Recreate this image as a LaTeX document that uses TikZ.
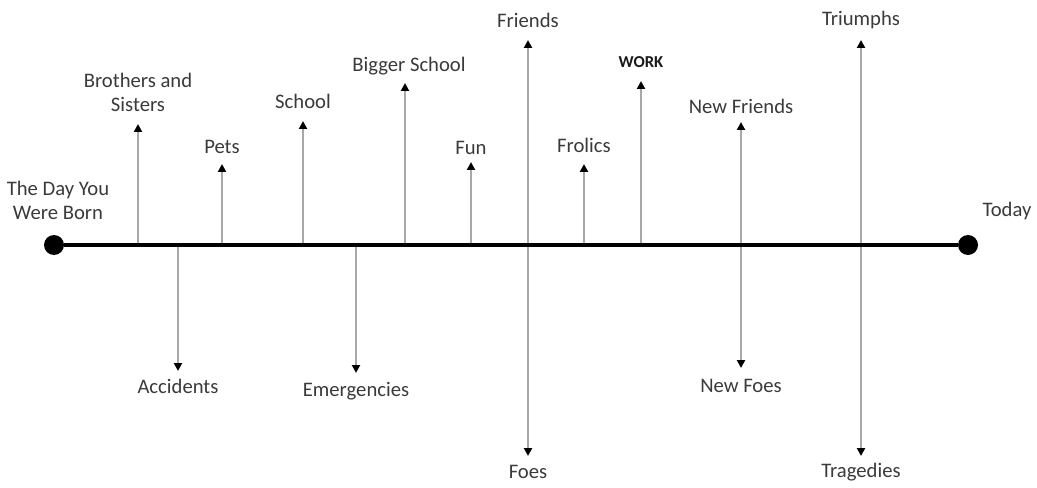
\documentclass[tikz,border=0pt]{standalone}
\usepackage{fontspec}
\setmainfont{Carlito}
\usetikzlibrary{arrows.meta}
\definecolor{txt}{HTML}{3A3A3A}
\definecolor{stem}{HTML}{A8A8A8}
\begin{document}
\begin{tikzpicture}[x=0.75pt,y=-0.75pt,
  lbl/.style={text=txt,font=\fontsize{15.5}{18}\selectfont,align=center,inner sep=0pt},
  boldlbl/.style={text=black!90,font=\fontsize{12.5}{15}\selectfont\bfseries,inner sep=0pt},
  stemarrow/.style={draw=stem,line width=1.6pt,-{Triangle[color=black,width=6pt,length=6pt]}},
  axis/.style={line width=3pt,black},
  endpoint/.style={circle,fill=black,minimum size=15pt,inner sep=0pt}]
\useasboundingbox (0,0) rectangle (1037,488);
% axis
\node[endpoint] (start) at (54,245) {};
\node[endpoint] (today) at (968,245) {};
\draw[axis] (start) -- (today);
% labels
\node[lbl] (born) at (58,200) {The Day You\\Were Born};
\node[lbl] (todaylbl) at (1007,211) {Today};
\node[lbl] (bro) at (138,92) {Brothers and\\Sisters};
\node[lbl] (pets) at (222,147) {Pets};
\node[lbl] (school) at (303,101) {School};
\node[lbl] (bigger) at (409,66) {Bigger School};
\node[lbl] (fun) at (471,148) {Fun};
\node[lbl] (friends) at (528,20) {Friends};
\node[lbl] (frolics) at (584,145) {Frolics};
\node[boldlbl] (work) at (641,62) {WORK};
\node[lbl] (newfriends) at (741,106) {New Friends};
\node[lbl] (triumphs) at (861,20) {Triumphs};
\node[lbl] (accidents) at (178,386) {Accidents};
\node[lbl] (emerg) at (356,391) {Emergencies};
\node[lbl] (foes) at (528,472) {Foes};
\node[lbl] (newfoes) at (741,386) {New Foes};
\node[lbl] (tragedies) at (861,472) {Tragedies};
% base points on the axis
\coordinate (bBro) at (138,245);
\coordinate (bPets) at (222,245);
\coordinate (bSchool) at (303,245);
\coordinate (bBigger) at (405,245);
\coordinate (bFun) at (471,245);
\coordinate (bFrolics) at (584,245);
\coordinate (bWork) at (641,245);
\coordinate (bAcc) at (178,245);
\coordinate (bEmerg) at (356,245);
% tips
\coordinate (tBro) at (138,124);
\coordinate (tPets) at (222,164);
\coordinate (tSchool) at (303,121);
\coordinate (tBigger) at (405,83);
\coordinate (tFun) at (471,162);
\coordinate (tFriends) at (528,40);
\coordinate (tFrolics) at (584,164);
\coordinate (tWork) at (641,81);
\coordinate (tNewFriends) at (741,122);
\coordinate (tTriumphs) at (861,40);
\coordinate (tAcc) at (178,371);
\coordinate (tEmerg) at (356,373);
\coordinate (tFoes) at (528,456);
\coordinate (tNewFoes) at (741,368);
\coordinate (tTragedies) at (861,456);
% arrows
\draw[stemarrow] (bBro) -- (tBro);
\draw[stemarrow] (bPets) -- (tPets);
\draw[stemarrow] (bSchool) -- (tSchool);
\draw[stemarrow] (bBigger) -- (tBigger);
\draw[stemarrow] (bFun) -- (tFun);
\draw[stemarrow] (bFrolics) -- (tFrolics);
\draw[stemarrow] (bWork) -- (tWork);
\draw[stemarrow] (bAcc) -- (tAcc);
\draw[stemarrow] (bEmerg) -- (tEmerg);
\draw[stemarrow,{Triangle[color=black,width=6pt,length=6pt]}-{Triangle[color=black,width=6pt,length=6pt]}] (tFoes) -- (tFriends);
\draw[stemarrow,{Triangle[color=black,width=6pt,length=6pt]}-{Triangle[color=black,width=6pt,length=6pt]}] (tNewFoes) -- (tNewFriends);
\draw[stemarrow,{Triangle[color=black,width=6pt,length=6pt]}-{Triangle[color=black,width=6pt,length=6pt]}] (tTragedies) -- (tTriumphs);
% redraw axis over stems
\draw[axis] (start) -- (today);
\end{tikzpicture}
\end{document}
